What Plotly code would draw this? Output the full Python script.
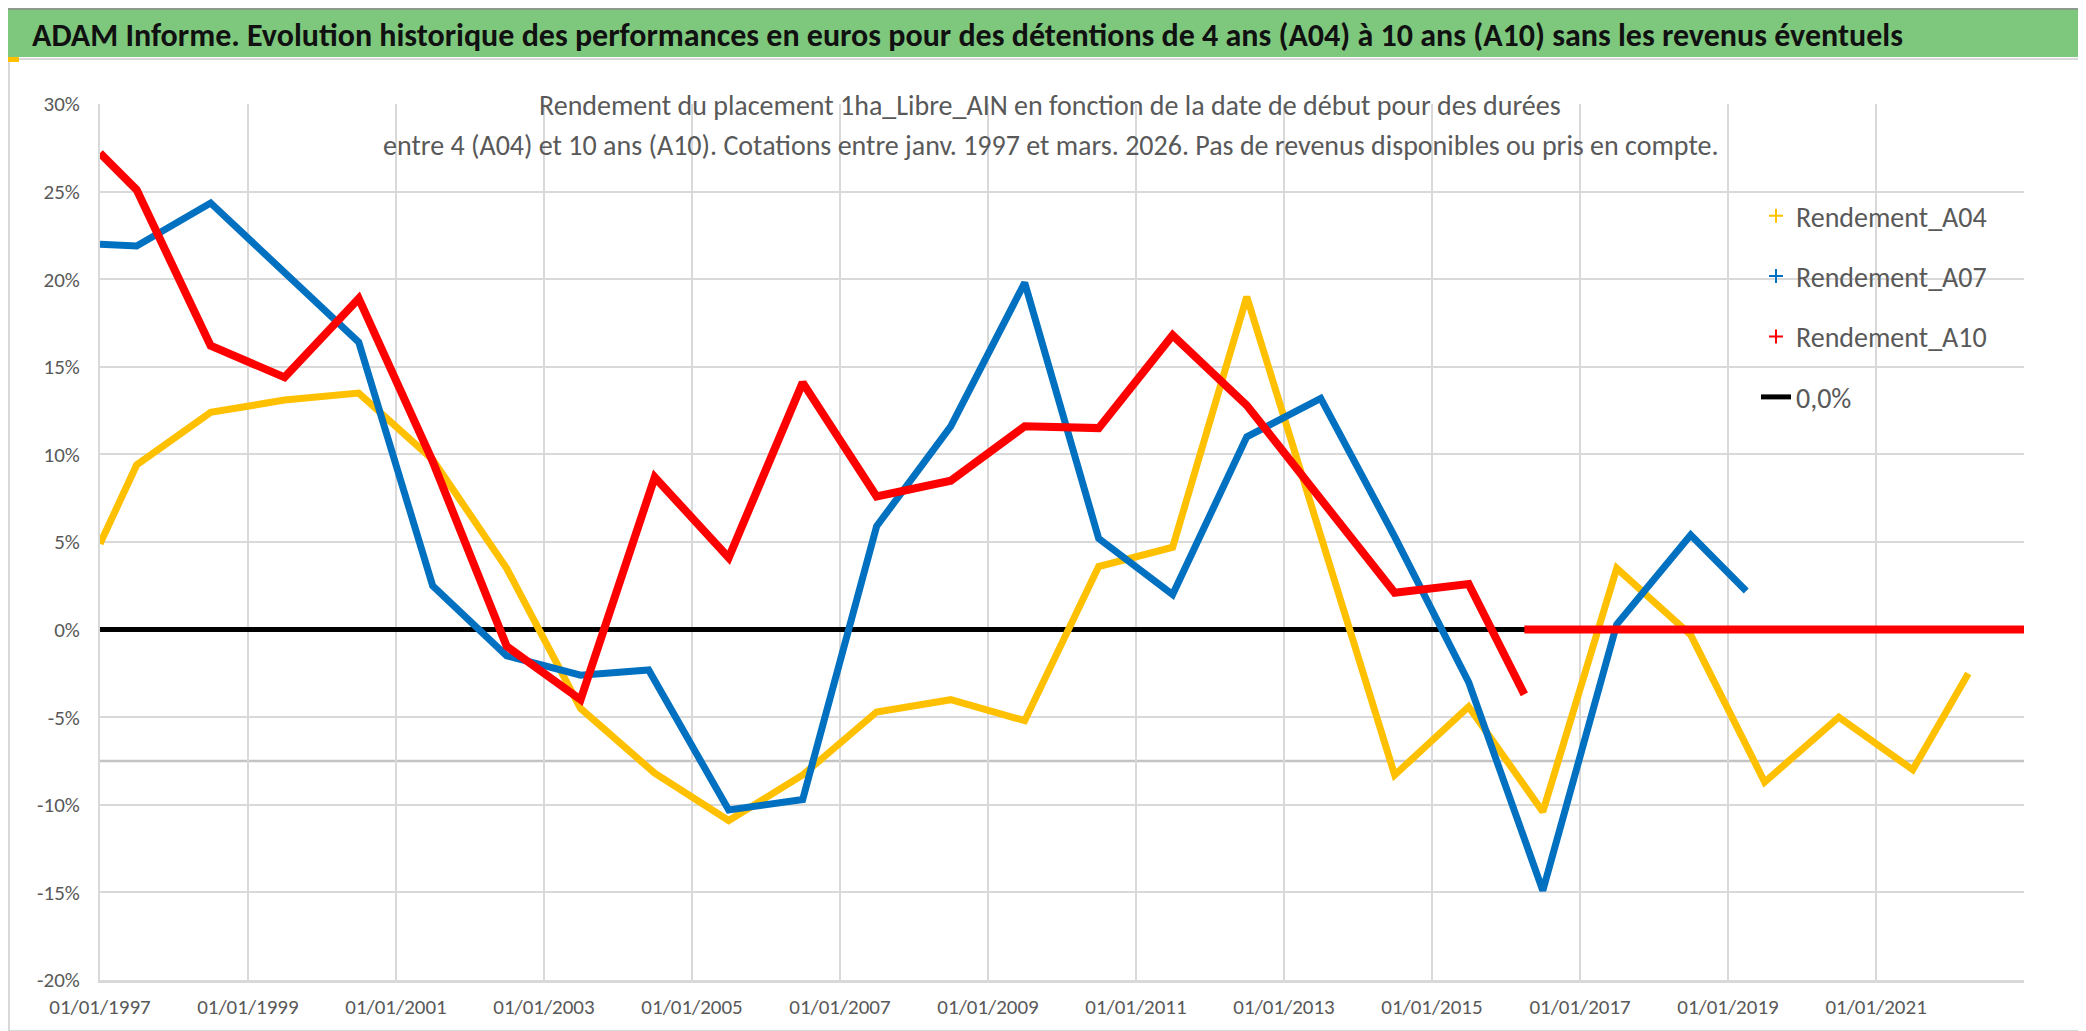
import plotly.graph_objects as go

# ---------------- data ----------------
a04_dates = ["1997-01-01", "1997-07-01", "1998-07-01", "1999-07-01", "2000-07-01",
             "2001-07-01", "2002-07-01", "2003-07-01", "2004-07-01", "2005-07-01",
             "2006-07-01", "2007-07-01", "2008-07-01", "2009-07-01", "2010-07-01",
             "2011-07-01", "2012-07-01", "2013-07-01", "2014-07-01", "2015-07-01",
             "2016-07-01", "2017-07-01", "2018-07-01", "2019-07-01", "2020-07-01",
             "2021-07-01", "2022-04-01"]
a04_values = [4.9, 9.4, 12.4, 13.1, 13.5, 9.7, 3.5, -4.5, -8.2, -10.9,
              -8.3, -4.7, -4.0, -5.2, 3.6, 4.7, 19.0, 5.4, -8.3, -4.4,
              -10.4, 3.5, -0.3, -8.7, -5.0, -8.0, -2.5]

a07_dates = ["1997-01-01", "1997-07-01", "1998-07-01", "1999-07-01", "2000-07-01",
             "2001-07-01", "2002-07-01", "2003-07-01", "2004-06-01", "2005-07-01",
             "2006-07-01", "2007-07-01", "2008-07-01", "2009-07-01", "2010-07-01",
             "2011-07-01", "2012-07-01", "2013-07-01", "2014-07-01", "2015-07-01",
             "2016-07-01", "2017-07-01", "2018-07-01", "2019-04-01"]
a07_values = [22.0, 21.9, 24.35, 20.4, 16.4, 2.5, -1.5, -2.6, -2.3, -10.3,
              -9.7, 5.9, 11.6, 19.8, 5.2, 2.0, 11.0, 13.2, 5.3, -3.0,
              -14.9, 0.3, 5.4, 2.2]

a10_dates = ["1997-01-01", "1997-07-01", "1998-07-01", "1999-07-01", "2000-07-01",
             "2001-07-01", "2002-07-01", "2003-07-01", "2004-07-01", "2005-07-01",
             "2006-07-01", "2007-07-01", "2008-07-01", "2009-07-01", "2010-07-01",
             "2011-07-01", "2012-07-01", "2013-07-01", "2014-07-01", "2015-07-01",
             "2016-04-01"]
a10_values = [27.2, 25.1, 16.2, 14.4, 18.9, 9.6, -0.95, -4.0, 8.7, 4.1,
              14.1, 7.6, 8.5, 11.6, 11.5, 16.8, 12.8, 7.5, 2.1, 2.6,
              -3.7]

# after the last available start date the series are reported as 0
a04_zero_dates = ["2022-04-01", "2023-01-01"]
a07_zero_dates = ["2019-04-01", "2023-01-01"]
a10_zero_dates = ["2016-04-01", "2023-01-01"]
zero_values = [0, 0]

ref_dates = ["1997-01-01", "2023-01-01"]
ref_values = [0, 0]
threshold_value = -7.5

x_tick_dates = ["1997-01-01", "1999-01-01", "2001-01-01", "2003-01-01", "2005-01-01",
                "2007-01-01", "2009-01-01", "2011-01-01", "2013-01-01", "2015-01-01",
                "2017-01-01", "2019-01-01", "2021-01-01"]
x_tick_labels = ["01/01/1997", "01/01/1999", "01/01/2001", "01/01/2003", "01/01/2005",
                 "01/01/2007", "01/01/2009", "01/01/2011", "01/01/2013", "01/01/2015",
                 "01/01/2017", "01/01/2019", "01/01/2021"]
y_tick_values = [30, 25, 20, 15, 10, 5, 0, -5, -10, -15, -20]
y_tick_labels = ["30%", "25%", "20%", "15%", "10%", "5%", "0%", "-5%", "-10%", "-15%", "-20%"]

series_names = ["Rendement_A04", "Rendement_A07", "Rendement_A10", "0,0%"]

title_text = ("<b>ADAM Informe. Evolution historique des performances en euros pour des "
              "détentions de 4 ans (A04) à 10 ans (A10) sans les revenus éventuels</b>")
subtitle_line1 = "Rendement du placement 1ha_Libre_AIN en fonction de la date de début pour des durées"
subtitle_line2 = ("entre 4 (A04) et 10 ans (A10). Cotations entre janv. 1997 et mars. 2026. "
                  "Pas de revenus disponibles ou pris en compte.")

# ---------------- styling ----------------
W, H = 2086, 1031
L, R, T, B = 92, 2016, 96, 972
FONT = "Carlito, 'Liberation Sans Narrow', 'Arial Narrow', 'Roboto Condensed', 'Noto Sans', sans-serif"
GREY_TXT = "#595959"
GRID = "#d9d9d9"
YELLOW, BLUE, RED = "#ffc000", "#0070c0", "#ff0000"


def px(x):
    return (x - L) / (R - L)


def py(y):
    return (B - y) / (B - T)


fig = go.Figure()

# black 0 % line (below the series)
fig.add_trace(go.Scatter(x=ref_dates, y=ref_values, mode="lines",
                         line=dict(color="black", width=5), name=series_names[3],
                         legendgroup="g4", legendrank=4, showlegend=True))

for dates, vals, zd, col, w, nm, g, rk in [
    (a04_dates, a04_values, a04_zero_dates, YELLOW, 7, series_names[0], "g1", 1),
    (a07_dates, a07_values, a07_zero_dates, BLUE, 7, series_names[1], "g2", 2),
    (a10_dates, a10_values, a10_zero_dates, RED, 8, series_names[2], "g3", 3),
]:
    fig.add_trace(go.Scatter(x=dates, y=vals, mode="lines", line=dict(color=col, width=w),
                             showlegend=False, legendgroup=g, hoverinfo="x+y"))
    fig.add_trace(go.Scatter(x=zd, y=zero_values, mode="lines", line=dict(color=col, width=w),
                             showlegend=False, legendgroup=g, hoverinfo="x+y"))
    # legend entry with '+' marker as in the reference
    fig.add_trace(go.Scatter(x=[None], y=[None], mode="markers", name=nm,
                             marker=dict(symbol="cross-thin", size=10,
                                         line=dict(color=col, width=2), color=col),
                             legendgroup=g, legendrank=rk, showlegend=True))

shapes = [
    # green title bar
    dict(type="rect", xref="paper", yref="paper", x0=px(0), x1=px(W), y0=py(49), y1=py(0),
         fillcolor="#7ec87e", line=dict(width=0), layer="above"),
    dict(type="line", xref="paper", yref="paper", x0=px(0), x1=px(W), y0=py(1), y1=py(1),
         line=dict(color="#8c9c8c", width=2), layer="above"),
    # chart area border
    dict(type="rect", xref="paper", yref="paper", x0=px(1), x1=px(2080), y0=py(1023), y1=py(51),
         line=dict(color=GRID, width=2), layer="below"),
    dict(type="line", xref="paper", yref="paper", x0=px(0), x1=px(W), y0=py(1029), y1=py(1029),
         line=dict(color="#8c8c8c", width=3), layer="above"),
    dict(type="line", xref="paper", yref="paper", x0=px(2084), x1=px(2084), y0=py(49), y1=py(1031),
         line=dict(color="#9a9a9a", width=4), layer="above"),
    # selection handles
    dict(type="rect", xref="paper", yref="paper", x0=px(0), x1=px(11), y0=py(54), y1=py(49),
         fillcolor=YELLOW, line=dict(width=0), layer="above"),
    dict(type="rect", xref="paper", yref="paper", x0=px(0), x1=px(11), y0=py(1029), y1=py(1023),
         fillcolor=YELLOW, line=dict(width=0), layer="above"),
    dict(type="rect", xref="paper", yref="paper", x0=px(2072), x1=px(2082), y0=py(60), y1=py(50),
         fillcolor=YELLOW, line=dict(width=0), layer="above"),
    dict(type="rect", xref="paper", yref="paper", x0=px(2076), x1=px(2082), y0=py(1029), y1=py(970),
         fillcolor=YELLOW, line=dict(width=0), layer="above"),
    # -7.5 % reference line
    dict(type="line", xref="paper", yref="y", x0=0, x1=1, y0=threshold_value, y1=threshold_value,
         line=dict(color="#c4c4c4", width=2.5), layer="between"),
    # white boxes behind subtitle and legend (hide gridlines)
    dict(type="rect", xref="paper", yref="paper", x0=px(375), x1=px(1711), y0=py(158), y1=py(60),
         fillcolor="white", line=dict(width=0), layer="between"),
    dict(type="rect", xref="paper", yref="paper", x0=px(1709), x1=px(2026), y0=py(420), y1=py(180),
         fillcolor="white", line=dict(width=0), layer="between"),
]

annotations = [
    dict(text=title_text, xref="paper", yref="paper", x=px(22), y=py(27), xanchor="left",
         yanchor="middle", showarrow=False, font=dict(family=FONT, size=32, color="#111111")),
    dict(text=subtitle_line1, xref="paper", yref="paper", x=px(1042), y=py(97), xanchor="center",
         yanchor="middle", showarrow=False, font=dict(family=FONT, size=28, color=GREY_TXT)),
    dict(text=subtitle_line2, xref="paper", yref="paper", x=px(1042), y=py(137), xanchor="center",
         yanchor="middle", showarrow=False, font=dict(family=FONT, size=28, color=GREY_TXT)),
]

fig.update_layout(
    width=W, height=H,
    margin=dict(l=L, r=W - R, t=T, b=H - B, autoexpand=False),
    paper_bgcolor="white", plot_bgcolor="white",
    font=dict(family=FONT, color=GREY_TXT),
    showlegend=True,
    legend=dict(x=px(1748), y=py(183), xanchor="left", yanchor="top",
                bgcolor="rgba(0,0,0,0)", font=dict(family=FONT, size=28, color=GREY_TXT),
                tracegroupgap=21, itemwidth=30),
    shapes=shapes, annotations=annotations,
    xaxis=dict(type="date", range=["1997-01-01", "2023-01-01"], tickmode="array",
               tickvals=x_tick_dates, ticktext=x_tick_labels, showgrid=True, gridcolor=GRID,
               gridwidth=1.5, showline=True, linecolor=GRID, linewidth=2.5, ticks="",
               zeroline=False, tickfont=dict(family=FONT, size=21, color=GREY_TXT),
               ticklabelstandoff=6),
    yaxis=dict(range=[-20, 30], tickmode="array", tickvals=y_tick_values, ticktext=y_tick_labels,
               showgrid=True, gridcolor=GRID, gridwidth=1.5, showline=True, linecolor=GRID,
               linewidth=2, ticks="", zeroline=False,
               tickfont=dict(family=FONT, size=21, color=GREY_TXT), ticklabelstandoff=14),
)

fig.write_html("out.html")
